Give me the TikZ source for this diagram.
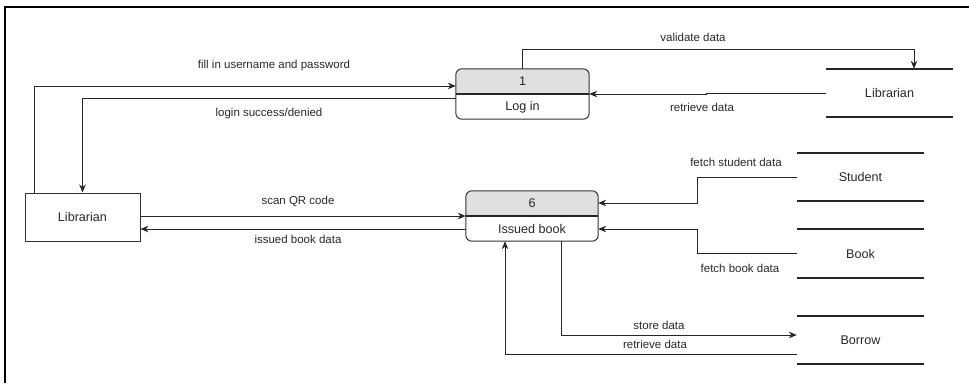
\documentclass[tikz,border=0pt]{standalone}
\usepackage{fontspec}
\setmainfont{Liberation Sans}
\usetikzlibrary{arrows.meta}
\definecolor{procgrey}{RGB}{224,224,224}
\definecolor{txt}{RGB}{40,40,40}
\tikzset{
  lbl/.style={font=\fontsize{11.5}{13}\selectfont, text=txt, inner sep=0pt},
  ntxt/.style={font=\fontsize{12.6}{14}\selectfont, text=txt, inner sep=0pt},
  proc/.style={rectangle, rounded corners=6pt, minimum width=#1, minimum height=50pt, inner sep=0pt},
  entbox/.style={rectangle, draw=black!80, line width=1pt, minimum width=115pt, minimum height=48pt, inner sep=0pt, font=\fontsize{12.6}{14}\selectfont, text=txt},
  storebox/.style={rectangle, minimum width=127pt, minimum height=48pt, inner sep=0pt, font=\fontsize{12.6}{14}\selectfont, text=txt},
  storeline/.style={line width=2pt, black!85},
  arr/.style={line width=0.9pt, black!85, -{Stealth[length=8pt,width=6.5pt]}},
}
\begin{document}
\begin{tikzpicture}[x=1pt,y=-1pt]
\useasboundingbox (0,0) rectangle (969,383);
% outer frame (only top and left visible)
\draw[line width=2pt, black] (5,383) -- (5,7) -- (969,7);

% processes
\node[proc=133pt] (p1) at (522.5,94) {};
\node[proc=132pt] (p6) at (532,216) {};
\foreach \p in {p1,p6}{
  \begin{scope}
    \clip[rounded corners=6pt] (\p.south west) rectangle (\p.north east);
    \fill[white] (\p.south west) rectangle (\p.north east);
    \fill[procgrey] (\p.west) rectangle (\p.north east);
  \end{scope}
  \draw[line width=1pt, black!80, rounded corners=6pt] (\p.south west) rectangle (\p.north east);
  \draw[line width=1.4pt, black!85] (\p.west) -- (\p.east);
}
\node[ntxt] (p1num) at (522.5,81) {1};
\node[ntxt] (p1name) at (522.5,107) {Log in};
\node[ntxt] (p6num) at (532,203) {6};
\node[ntxt] (p6name) at (532,229) {Issued book};

% external entity
\node[entbox] (ent) at (82.5,217) {Librarian};

% data stores
\node[storebox] (sLib) at (889.5,93) {Librarian};
\node[storebox] (sStu) at (860.5,177) {Student};
\node[storebox] (sBook) at (860.5,253.5) {Book};
\node[storebox] (sBor) at (860.5,340) {Borrow};
\foreach \s in {sLib,sStu,sBook,sBor}{
  \draw[storeline] (\s.north west) -- (\s.north east);
  \draw[storeline] (\s.south west) -- (\s.south east);
}

% connectors
\draw[arr] ([xshift=10pt]ent.north west) |- ([yshift=8pt]p1.west);
\draw[arr] ([yshift=-4pt]p1.west) -| (ent.north);
\draw[arr] (p1.north) -- ++(0,-19) -| ([xshift=24.5pt]sLib.north);
\draw[arr] (sLib.west) -- ++(-119,0) |- (p1.east);
\draw[arr] (ent.east |- p6.west) -- (p6.west);
\draw[arr] ([yshift=-13pt]p6.west) -- ([yshift=-13pt]p6.west -| ent.east);
\draw[arr] (sStu.west) -- ++(-99,0) |- ([yshift=13pt]p6.east);
\draw[arr] (sBook.west) -- ++(-99,0) |- ([yshift=-13pt]p6.east);
\draw[arr] ([xshift=29pt]p6.south) |- ([yshift=5pt]sBor.west);
\draw[arr] ([yshift=-14pt]sBor.west) -| ([xshift=-27pt]p6.south);

% labels
\node[lbl] (l1) at (274,66) {fill in username and password};
\node[lbl] (l2) at (269,114) {login success/denied};
\node[lbl] (l3) at (693,37) {validate data};
\node[lbl] (l4) at (702,107) {retrieve data};
\node[lbl] (l5) at (298,201) {scan QR code};
\node[lbl] (l6) at (298,239) {issued book data};
\node[lbl] (l7) at (736,162) {fetch student data};
\node[lbl] (l8) at (740,268) {fetch book data};
\node[lbl] (l9) at (659,325) {store data};
\node[lbl] (l10) at (655,344) {retrieve data};
\end{tikzpicture}
\end{document}
